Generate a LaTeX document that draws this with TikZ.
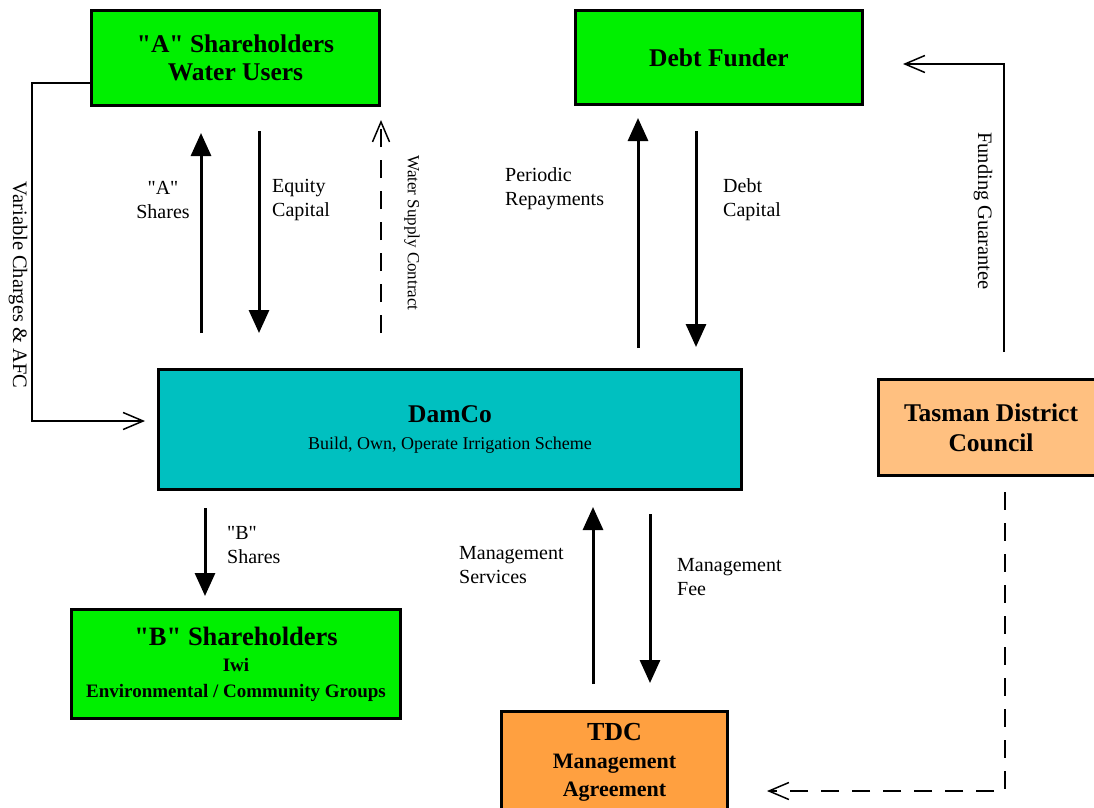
\documentclass[tikz,border=0pt]{standalone}
\usepackage{fontspec}
\setmainfont{Liberation Serif}[Ligatures=TeXOff]
\usetikzlibrary{arrows.meta}
\definecolor{limegreen}{HTML}{00F000}
\definecolor{damteal}{HTML}{00C0C0}
\definecolor{peach}{HTML}{FFC080}
\definecolor{tdcorange}{HTML}{FFA040}
\tikzset{
  box/.style={rectangle, draw=black, line width=3pt, fill=limegreen, align=center,
    inner sep=0pt, font=\bfseries\fontsize{25.5}{28}\selectfont},
  boxTeal/.style={box, fill=damteal},
  boxPeach/.style={box, fill=peach},
  boxOrange/.style={box, fill=tdcorange},
  fat/.style={-{Triangle[length=23pt,width=20pt]}, line width=3pt},
  openArrow/.style={-{Straight Barb[length=20pt,width=17pt]}, line width=1.5pt},
  dashArrow/.style={openArrow, dash pattern=on 18pt off 13pt},
  lbl/.style={font=\fontsize{20}{24}\selectfont, align=left, inner sep=0pt},
  vlbl/.style={font=\fontsize{20.5}{24}\selectfont, rotate=-90, inner sep=0pt},
}

\begin{document}
\begin{tikzpicture}[x=1pt, y=-1pt]
\useasboundingbox[fill=white] (0,0) rectangle (1094,807);
\node[box, minimum width=288pt, minimum height=95pt] (sharesA) at (235.5,58) {"A" Shareholders\\Water Users};
\node[box, minimum width=287pt, minimum height=94pt] (funder) at (719,57.5) {Debt Funder};
\node[boxTeal, minimum width=583pt, minimum height=120pt] (damco) at (450,429.5)
  {DamCo\\[-1pt]{\mdseries\fontsize{18}{22}\selectfont Build, Own, Operate Irrigation Scheme}};
\node[boxPeach, minimum width=225pt, minimum height=96pt, font=\bfseries\fontsize{25.5}{30}\selectfont] (council) at (991,427.5) {Tasman District\\Council};
\node[box, minimum width=329pt, minimum height=109pt, font=\bfseries\fontsize{26.5}{26}\selectfont] (sharesB) at (236,664)
  {"B" Shareholders\\{\fontsize{19}{25}\selectfont Iwi}\\{\fontsize{19}{25}\selectfont Environmental / Community Groups}};
\node[boxOrange, minimum width=226pt, minimum height=101pt, font=\bfseries\fontsize{26}{28}\selectfont] (tdc) at (614.5,762)
  {TDC\\{\fontsize{22}{27}\selectfont Management}\\{\fontsize{22}{27}\selectfont Agreement}};

% money and share flows
\foreach \xc/\a/\b/\s/\e in {201/damco.north/sharesA.south/35/26, 259/sharesA.south/damco.north/24/35,
    638/damco.north/funder.south/20/12, 696/funder.south/damco.north/25/21,
    205/damco.south/sharesB.north/17/12, 593/tdc.north/damco.south/26/16, 650/damco.south/tdc.north/23/27}
  \draw[fat, shorten <=\s pt, shorten >=\e pt] (\xc,0 |- \a) -- (\xc,0 |- \b);

\draw[dashArrow, shorten <=35pt, shorten >=13pt] (sharesA.south east |- damco.north) -- (sharesA.south east);
\draw[openArrow, shorten >=12pt] ([yshift=-25pt]sharesA.west) -- ++(-58,0) |- ([yshift=8.5pt]damco.west);
\draw[openArrow, shorten <=26pt, shorten >=39pt] ([xshift=13pt]council.north) |- ([yshift=-6.5pt]funder.east);
\draw[dashArrow, shorten <=15pt, shorten >=38pt] ([xshift=14pt]council.south) |- ([yshift=-29pt]tdc.east);

\node[lbl, align=center] (lShA) at (163,200) {"A"\\Shares};
\node[lbl, anchor=west] (lEq) at (272,200) {Equity\\Capital};
\node[lbl, anchor=west] (lRep) at (505,189) {Periodic\\Repayments};
\node[lbl, anchor=west] (lDebt) at (723,200) {Debt\\Capital};
\node[lbl, anchor=west] (lShB) at (227,545) {"B"\\ Shares};
\node[lbl, anchor=west] (lSvc) at (459,565) {Management\\Services};
\node[lbl, anchor=west] (lFee) at (677,577) {Management\\Fee};
\node[vlbl, font=\fontsize{17}{20}\selectfont] (lWater) at (412,233) {Water Supply Contract};
\node[vlbl] (lFund) at (983,211) {Funding Guarantee};
\node[vlbl] (lVar) at (18,285) {Variable Charges \& AFC};
\end{tikzpicture}
\end{document}
